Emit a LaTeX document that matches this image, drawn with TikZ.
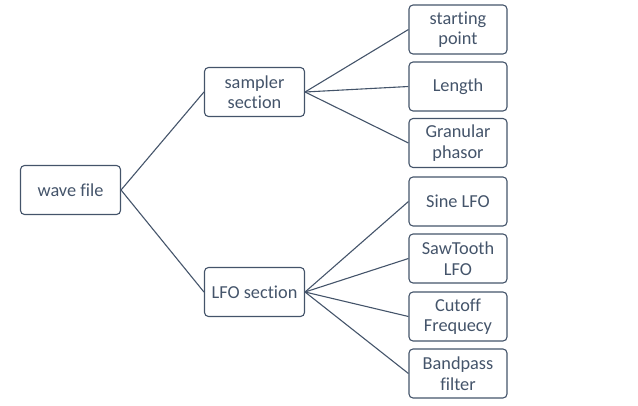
\documentclass[tikz,border=0pt]{standalone}
\usepackage{fontspec}
\setmainfont[Ligatures=NoCommon]{Carlito}
\definecolor{slate}{HTML}{44546A}
\begin{document}
\begin{tikzpicture}[x=1pt,y=-1pt,
  box/.style={draw=slate,line width=1.1pt,rounded corners=4pt,minimum width=98pt,minimum height=49pt,
    text=slate,align=center,font=\fontsize{18.3}{20.5}\selectfont,inner sep=1pt},
  wide/.style={box,minimum width=100pt},
  link/.style={draw=slate,line width=1.1pt}]
\useasboundingbox (0,0) rectangle (638,405);
\node[wide] (wave) at (70.5,190) {wave file};
\node[wide] (samp) at (254.5,92) {sampler\\section};
\node[wide] (lfo) at (254.5,292) {LFO section};
\node[box] (sp) at (458,29.5) {starting\\point};
\node[box] (len) at (458,86.5) {Length};
\node[box] (gran) at (458,143) {Granular\\phasor};
\node[box] (sine) at (458,201.5) {Sine LFO};
\node[box] (saw) at (458,258.5) {SawTooth\\LFO};
\node[box] (cut) at (458,316.5) {Cutoff\\Frequecy};
\node[box] (band) at (458,373.5) {Bandpass\\filter};
\draw[link] (wave.east) -- (samp.west);
\draw[link] (wave.east) -- (lfo.west);
\foreach \t in {sp,len,gran} \draw[link] (samp.east) -- (\t.west);
\foreach \t in {sine,saw,cut,band} \draw[link] (lfo.east) -- (\t.west);
\end{tikzpicture}
\end{document}
